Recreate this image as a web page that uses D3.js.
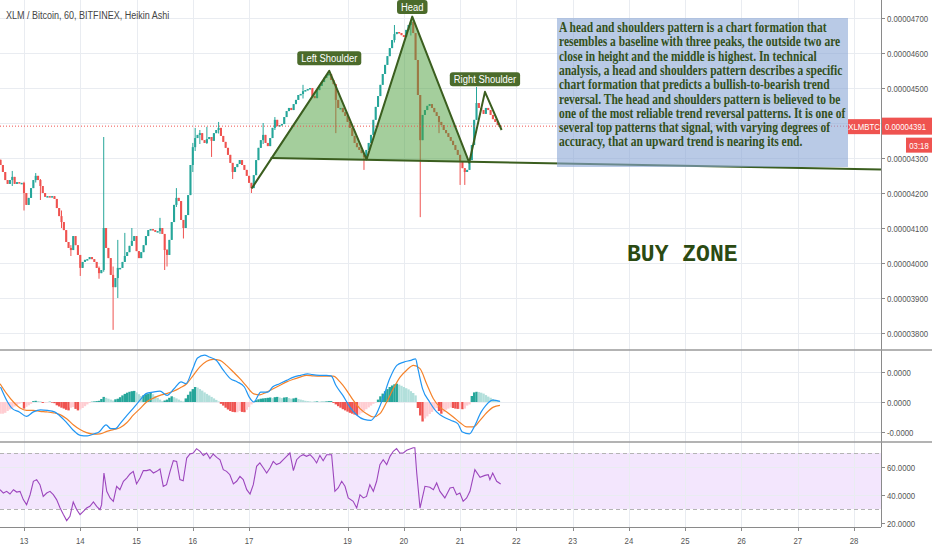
<!DOCTYPE html>
<html>
<head>
<meta charset="utf-8">
<script src="https://d3js.org/d3.v7.min.js"></script>
<style>
  body { margin: 0; background: #fff; }
</style>
</head>
<body>
<div id="chart"></div>
<script>
// Chart data, prices in satoshi (1e-8 BTC), one hourly bar per index
var dayLabels = ["13", "14", "15", "16", "17", "19", "20", "21", "22", "23", "24", "25", "26", "27", "28"];
var dayBars = [0, 24, 48, 72, 96, 138, 162, 186, 210, 234, 258, 282, 306, 330, 354];
var priceTicks = [3800, 3900, 4000, 4100, 4200, 4300, 4400, 4500, 4600, 4700];
var macdTicks = [-10, 0, 10];
var rsiTicks = [20, 40, 60];

var firstBar = -10;
var firstOpen = 4295;
var haClose = [
  4280, 4260, 4237, 4226, 4237, 4246, 4226, 4231, 4229, 4229,
  4200, 4166, 4186, 4214, 4237, 4249, 4237, 4220, 4200, 4189,
  4191, 4189, 4191, 4183, 4157, 4134, 4117, 4094, 4060, 4043,
  4037, 4077, 4051, 4023, 3986, 4003, 4009, 4011, 4017, 4011,
  4003, 3986, 3971, 3980, 4100, 4043, 4014, 3966, 3931, 3957,
  3986, 3986, 4003, 4020, 4031, 4049, 4063, 4077, 4034, 4014,
  4031, 4051, 4077, 4094, 4097, 4094, 4089, 4091, 4100, 4083,
  4037, 4023, 4066, 4117, 4166, 4186, 4177, 4123, 4100, 4137,
  4194, 4280, 4331, 4357, 4366, 4371, 4351, 4343, 4354, 4360,
  4349, 4371, 4380, 4386, 4363, 4346, 4329, 4309, 4286, 4260,
  4274, 4283, 4294, 4280, 4266, 4249, 4229, 4214, 4251, 4294,
  4329, 4351, 4366, 4343, 4334, 4357, 4386, 4409, 4391, 4394,
  4397, 4417, 4434, 4443, 4437, 4454, 4466, 4480, 4483, 4491,
  4494, 4497, 4500, 4477, 4471, 4494, 4506, 4517, 4529, 4537,
  4540, 4523, 4511, 4466, 4443, 4443, 4431, 4420, 4403, 4386,
  4363, 4343, 4331, 4323, 4314, 4303, 4323, 4343, 4366, 4409,
  4446, 4477, 4509, 4540, 4566, 4591, 4614, 4637, 4654, 4660,
  4657, 4651, 4646, 4666, 4680, 4689, 4657, 4580, 4480, 4351,
  4423, 4437, 4449, 4454, 4443, 4431, 4420, 4403, 4394, 4380,
  4371, 4360, 4349, 4337, 4323, 4309, 4291, 4271, 4260, 4266,
  4294, 4337, 4409, 4457, 4443, 4437, 4426, 4443, 4437, 4423,
  4411, 4403, 4394, 4391
];
// [bar, high, low] for the bars with visible wicks
var wicks = [
  [-5, 4263, 4220], [0, 4232, 4150], [5, 4257, 4230], [7, 4240, 4180], [16, 4150, 4100],
  [20, 4051, 4020], [24, 4023, 3963], [32, 3990, 3955], [34, 4360, 3975], [38, 3990, 3809],
  [40, 4066, 3900], [43, 4086, 4003], [46, 4100, 4050], [58, 4129, 4083], [60, 4083, 3980],
  [61, 4040, 3990], [65, 4214, 4160], [68, 4123, 4070], [72, 4343, 4260], [73, 4386, 4320],
  [75, 4380, 4340], [78, 4389, 4340], [80, 4360, 4303], [83, 4403, 4370], [89, 4286, 4240],
  [97, 4229, 4200], [102, 4400, 4340], [107, 4417, 4380], [119, 4509, 4470], [133, 4511, 4371],
  [145, 4314, 4266], [158, 4680, 4630], [165, 4694, 4650], [169, 4480, 4131], [177, 4420, 4371],
  [186, 4309, 4223], [188, 4271, 4223], [193, 4503, 4409]
];
var lastPrice = 4391;

// MACD histogram, one value per bar
var histogram = [
  -3.9, -3.9, -3.6, -3.0, -2.5, -2.0, -1.5, -1.0, -0.6, -0.2,
  -2.2, -1.6, -1.1, -0.6, 0.3, 0.4, 0.3, 0.2, -0.3, -0.2,
  -0.1, 0.1, -0.2, -0.4, -1.1, -1.5, -1.9, -2.2, -2.6, -2.8,
  -1.9, -1.7, -2.3, -2.8, -2.5, -2.0, -1.4, -0.8, -0.3, 0.1,
  0.2, 0.3, 0.4, 1.0, 1.7, 1.4, 1.1, 0.8, 0.5, 0.9,
  1.1, 1.6, 2.2, 2.7, 3.1, 3.4, 3.6, 3.7, 3.2, 2.6,
  2.0, 2.3, 2.6, 2.8, 3.0, 2.6, 2.0, 1.4, 0.8, 0.3,
  0.5, 0.8, 1.4, 1.9, 1.6, 1.2, 0.8, 0.4, 0.2, 1.2,
  2.4, 3.5, 4.3, 5.0, 4.8, 4.3, 3.8, 3.2, 2.7, 2.2,
  1.7, 1.2, 0.7, 0.2, -0.6, -1.2, -1.9, -2.5, -3.0, -3.3,
  -3.4, -3.4, -3.0, -3.3, -3.4, -2.6, -1.7, -0.8, -0.1, 0.6,
  0.9, 1.1, 1.2, 1.3, 1.4, 1.5, 1.3, 1.6, 1.7, 1.5,
  1.3, 1.5, 1.6, 1.3, 1.1, 1.2, 1.4, 1.0, 0.8, 0.6,
  0.4, 0.3, 0.2, 0.1, 0.1, 0.2, 0.1, 0.1, 0.1, 0.2,
  0.3, 0.3, -0.3, -0.8, -1.4, -1.9, -2.4, -2.8, -3.2, -3.6,
  -3.9, -4.2, -4.4, -4.2, -3.6, -3.0, -2.4, -1.8, -1.2, -0.6,
  -0.2, 0.8, 1.9, 2.8, 3.6, 4.3, 5.0, 5.5, 5.9, 6.1,
  5.8, 5.4, 5.0, 4.6, 4.2, 3.6, 3.0, 2.2, -2.0, -4.5,
  -6.5, -5.5, -4.8, -4.0, -3.3, -2.6, -2.0, -3.0, -3.9, -3.3,
  -2.6, -2.2, -1.8, -2.0, -2.2, -2.3, -2.3, -2.4, -2.2, -1.2,
  -0.8, 2.0, 3.2, 3.4, 3.3, 3.1, 2.8, 2.3, 1.8, 1.4,
  1.0, 0.6, 0.3, 0.1
];
// [bar, value] samples
var macdLine = [
  [-10, 5.0], [-7, 0], [-5, -2.2], [-2, -3.3], [1, -4.8], [4, -3.3], [7, -2.6], [10, -2.8], [13, -3.3], [15, -4.4],
  [18, -6.7], [21, -9.4], [24, -11.1], [27, -11.3], [30, -10.6], [32, -10], [35, -7.6], [37, -8.9], [39, -8.9], [41, -7.2],
  [44, -4.4], [47, -1.7], [50, 1.1], [52, 2.8], [55, 3.3], [58, 3.6], [61, 2.2], [64, 4.4], [67, 6.7], [69, 6.1],
  [72, 11.1], [74, 14.7], [77, 15.6], [79, 15], [82, 13.9], [85, 10.6], [88, 7.8], [91, 6.7], [94, 5], [96, 1.7],
  [98, 0], [101, 3.3], [104, 3.3], [106, 5], [109, 6.1], [112, 7.2], [115, 8.3], [118, 8.9], [121, 9.4], [123, 9.1],
  [126, 8.9], [129, 8.9], [131, 8.7], [133, 5.6], [136, 2.2], [139, -1.7], [142, -4.4], [145, -5.8], [148, -6.1], [150, -4.4],
  [153, 1.1], [156, 7.8], [159, 12.2], [162, 13.3], [165, 13.9], [167, 14.4], [168, 11.1], [170, 4.4], [173, 0], [176, -3.3],
  [179, -5], [182, -6.1], [185, -7.2], [187, -10], [190, -10.6], [192, -8.3], [195, -3.3], [197, -1.1], [200, 0.6], [203, 0.2]
];
var signalLine = [
  [-10.2, 6.1], [-7.4, 2.8], [-4.5, 0], [-1.7, -2], [1.1, -2.8], [4, -2.8], [6.8, -3.1], [9.7, -3.3], [12.5, -3.6], [15.4, -4.2],
  [18.2, -5.6], [21, -7.6], [23.9, -9.2], [26.7, -10.2], [29.6, -10.7], [32.4, -10.6], [35.3, -9.8], [38.1, -9.2], [40.9, -8.6], [43.8, -6.9],
  [46.6, -4.4], [49.5, -2.2], [52.3, 0], [55.2, 1.3], [58, 2.2], [60.8, 2.8], [63.7, 3.6], [66.5, 4.7], [69.4, 6.1], [72.2, 8.9],
  [75, 11.7], [77.9, 13.6], [80.7, 14.2], [83.6, 13.9], [86.4, 12.2], [89.3, 10], [92.1, 7.8], [94.9, 5.3], [97.8, 2.8], [100.6, 2.4],
  [103.5, 3.3], [106.3, 4.4], [109.2, 5.6], [112, 6.7], [114.9, 7.6], [117.7, 8.3], [120.5, 8.9], [123.4, 8.7], [126.2, 8.6], [129.1, 8.6],
  [131.9, 8.6], [134.8, 6.7], [137.6, 3.9], [140.4, 0.6], [143.3, -2.2], [146.1, -3.9], [149, -5], [151.8, -3.9], [154.7, 0], [157.5, 4.4],
  [160.4, 8.3], [163.2, 10.6], [166.1, 12.2], [168.9, 11.1], [171.7, 6.1], [174.6, 1.1], [177.4, -1.7], [180.3, -3.3], [183.1, -5], [186, -6.9],
  [188.8, -8.3], [191.6, -8.3], [194.5, -6.1], [197.3, -3.6], [200.2, -1.7], [203, -1.1]
];
var rsiLine = [
  [-10.2, 43.8], [-8.8, 41.4], [-7.4, 42.6], [-6, 40.7], [-4.5, 43.8], [-3.1, 42.1], [-1.7, 42.6], [-0.3, 36.7], [1.1, 33.1], [2.6, 40.2],
  [4, 49.8], [5.4, 51], [6.8, 47.4], [8.2, 39], [9.7, 41.4], [11.1, 42.6], [12.5, 40.2], [13.9, 36.7], [15.4, 30.7], [16.8, 26],
  [18.2, 21.7], [19.6, 24.8], [21, 35], [22.5, 29.5], [23.9, 26], [25.3, 28.3], [26.7, 30.7], [28.1, 31.9], [29.6, 35], [31, 31.9],
  [32.4, 29.5], [33.1, 33.1], [34.1, 55.7], [35.3, 42.6], [36.7, 37.9], [38.1, 35.5], [39.5, 46.2], [40.9, 43.8], [42.4, 49.8], [43.8, 52.1],
  [45.2, 55], [46.6, 56.9], [48, 47.9], [49.5, 52.1], [50.9, 57.4], [52.3, 57.4], [53.7, 58.1], [55.2, 55.7], [56.6, 56.9], [58, 58.6],
  [59.4, 46.2], [60.8, 47.4], [62.3, 56.9], [63.7, 64.5], [65.1, 64], [66.5, 51], [67.9, 50.2], [69.4, 66.4], [70.8, 69.3], [72.2, 70],
  [73.6, 73.1], [75.1, 71.2], [76.5, 68.3], [77.9, 70], [79.3, 66], [80.7, 69.3], [82.2, 66.9], [83.6, 65.2], [85, 58.1], [86.4, 56.9],
  [87.8, 54.5], [89.3, 47.9], [90.7, 49.8], [92.1, 53.3], [93.5, 51], [95, 43.8], [96.4, 40.7], [97.8, 47.4], [99.2, 60.5], [100.6, 62.9],
  [102.1, 59.3], [103.5, 55.7], [104.9, 59.3], [106.3, 64], [107.7, 61.7], [109.2, 62.9], [110.6, 65.2], [112, 67.6], [113.4, 70], [114.9, 57.4],
  [116.3, 65.2], [117.7, 67.6], [119.1, 68.8], [120.5, 67.6], [122, 68.8], [123.4, 66.4], [124.8, 62.9], [126.2, 68.3], [127.6, 64.5], [129.1, 68.8],
  [131.2, 68.8], [132.6, 42.6], [134, 45], [135.5, 49.8], [136.9, 46.2], [138.3, 37.9], [140.4, 35.5], [141.9, 30.7], [143.3, 40.2], [144.7, 37.9],
  [146.1, 39], [147.5, 47.4], [149, 42.6], [150.4, 49.8], [151.8, 61.7], [153.2, 65.2], [154.7, 61.7], [156.1, 67.6], [157.5, 71.2], [158.9, 73.1],
  [160.3, 70], [161.8, 70], [163.2, 71.9], [166, 73.8], [166.7, 73.8], [167.5, 55.7], [168.9, 30.7], [171, 46.2], [173.1, 45.5], [174.6, 43.8],
  [176, 48.6], [177.4, 42.6], [179.5, 37.9], [181.7, 45], [183.1, 45.5], [184.5, 40.2], [185.9, 41.4], [187.3, 35.5], [188.8, 37.9], [190.2, 42.6],
  [192.3, 58.1], [194.5, 52.6], [196.6, 54], [198, 54.5], [198.7, 51], [199.9, 55.7], [201.6, 49.8], [203.3, 47.9]
];

// head and shoulders drawing
var hsBars = [97.1, 130.2, 146.1, 165.6, 189.9, 196.6, 203.7];
var hsPrices = [4213, 4549, 4296, 4704, 4287, 4489, 4380];
var hsLabelIdx = [1, 3, 5];
var hsLabelNames = ["Left Shoulder", "Head", "Right Shoulder"];
var neckBars = [105.2, 365.5];
var neckPrices = [4300, 4267];

var noteLines = [
  "A head and shoulders pattern is a chart formation that",
  "resembles a baseline with three peaks, the outside two are",
  "close in height and the middle is highest. In technical",
  "analysis, a head and shoulders pattern describes a specific",
  "chart formation that predicts a bullish-to-bearish trend",
  "reversal. The head and shoulders pattern is believed to be",
  "one of the most reliable trend reversal patterns. It is one of",
  "several top patterns that signal, with varying degrees of",
  "accuracy, that an upward trend is nearing its end."
];

// Set up the chart
var svgWidth = 932;
var svgHeight = 550;
var axisX = 881;
var mainBottom = 349;
var macdTop = 350, macdBottom = 442;
var rsiBottom = 527;
var squeeze = 0.82;

var x = d3.scaleLinear().domain([0, 354]).range([24, 854]);
var yPrice = d3.scaleLinear().domain([3800, 4700]).range([333, 18]);
var yMacd = d3.scaleLinear().domain([-10, 10]).range([432, 372]);
var yRsi = d3.scaleLinear().domain([20, 60]).range([523, 467]);

var svg = d3.select("#chart")
  .append("svg")
  .attr("width", svgWidth)
  .attr("height", svgHeight)
  .style("font-family", "'Liberation Sans', Arial, sans-serif");

function crisp(v) { return Math.round(v) + 0.5; }

function addText(parent, px, py, str, size, fill, anchor, sx) {
  return parent.append("text")
    .attr("transform", "translate(" + px + "," + py + ") scale(" + (sx || squeeze) + ",1)")
    .attr("text-anchor", anchor || "start")
    .style("font-size", size + "px")
    .attr("fill", fill)
    .text(str);
}

var defs = svg.append("defs");
function addClip(id, y0, y1) {
  defs.append("clipPath").attr("id", id)
    .append("rect").attr("x", 0).attr("y", y0).attr("width", axisX).attr("height", y1 - y0);
}
addClip("clipMain", 0, mainBottom);
addClip("clipMacd", macdTop + 1, macdBottom - 1);
addClip("clipRsi", macdBottom + 1, rsiBottom - 1);

// RSI band under the grid
svg.append("rect")
  .attr("x", 0).attr("width", axisX)
  .attr("y", yRsi(70)).attr("height", yRsi(30) - yRsi(70))
  .attr("fill", "#f3e6fd");

// grid
var grid = svg.append("g").attr("stroke", "#e9ecf1").attr("stroke-width", 1);
grid.selectAll(".vgrid").data(dayBars).enter().append("line")
  .attr("x1", function(d) { return crisp(x(d)); })
  .attr("x2", function(d) { return crisp(x(d)); })
  .attr("y1", 0).attr("y2", rsiBottom);
grid.selectAll(".pgrid").data(priceTicks).enter().append("line")
  .attr("x1", 0).attr("x2", axisX)
  .attr("y1", function(d) { return crisp(yPrice(d)); })
  .attr("y2", function(d) { return crisp(yPrice(d)); });
grid.selectAll(".mgrid").data(macdTicks).enter().append("line")
  .attr("x1", 0).attr("x2", axisX)
  .attr("y1", function(d) { return crisp(yMacd(d)); })
  .attr("y2", function(d) { return crisp(yMacd(d)); });
grid.selectAll(".rgrid").data([40, 60]).enter().append("line")
  .attr("x1", 0).attr("x2", axisX)
  .attr("y1", function(d) { return crisp(yRsi(d)); })
  .attr("y2", function(d) { return crisp(yRsi(d)); });

// candles
var candles = haClose.map(function(c, i) {
  var o = i === 0 ? firstOpen : haClose[i - 1];
  return { bar: firstBar + i, open: o, close: c, high: Math.max(o, c), low: Math.min(o, c) };
});
wicks.forEach(function(w) {
  var cd = candles[w[0] - firstBar];
  cd.high = Math.max(cd.high, w[1]);
  cd.low = Math.min(cd.low, w[2]);
});

var main = svg.append("g").attr("clip-path", "url(#clipMain)");
var candleG = main.append("g");
candleG.selectAll(".wick").data(candles).enter().append("line")
  .attr("x1", function(d) { return x(d.bar); })
  .attr("x2", function(d) { return x(d.bar); })
  .attr("y1", function(d) { return yPrice(d.high); })
  .attr("y2", function(d) { return yPrice(d.low); })
  .attr("stroke", function(d) { return d.close >= d.open ? "#26a69a" : "#ef5350"; })
  .attr("stroke-width", 1);
candleG.selectAll(".body").data(candles).enter().append("rect")
  .attr("x", function(d) { return x(d.bar) - 1.05; })
  .attr("width", 2.1)
  .attr("y", function(d) { return yPrice(Math.max(d.open, d.close)); })
  .attr("height", function(d) { return Math.max(1.5, Math.abs(yPrice(d.open) - yPrice(d.close))); })
  .attr("fill", function(d) { return d.close >= d.open ? "#26a69a" : "#ef5350"; });

// head and shoulders fill
var neckSlope = (neckPrices[1] - neckPrices[0]) / (neckBars[1] - neckBars[0]);
var fillPts = [[neckBars[0], neckPrices[0]]];
for (var k = 1; k <= 4; k++) fillPts.push([hsBars[k], hsPrices[k]]);
fillPts.push([hsBars[4], neckPrices[0] + neckSlope * (hsBars[4] - neckBars[0])]);
main.append("path")
  .attr("d", d3.line().x(function(d) { return x(d[0]); }).y(function(d) { return yPrice(d[1]); })(fillPts) + "Z")
  .attr("fill", "#4a9e3a")
  .attr("fill-opacity", 0.5);

// current price dotted line
main.append("line")
  .attr("x1", 0).attr("x2", axisX)
  .attr("y1", yPrice(lastPrice)).attr("y2", yPrice(lastPrice))
  .attr("stroke", "#ef5350")
  .attr("stroke-width", 1)
  .attr("stroke-dasharray", "1,2");

// note box
svg.append("rect")
  .attr("x", 557).attr("y", 18).attr("width", 291).attr("height", 149)
  .attr("fill", "#8aa6d6").attr("fill-opacity", 0.6);
var note = svg.append("g")
  .style("font-family", "'Liberation Serif', 'Times New Roman', serif")
  .style("font-weight", "bold");
noteLines.forEach(function(line, i) {
  addText(note, 559, 32 + i * 14.3, line, 14, "#33501b");
});

// outline and neckline over the box
var hsPts = hsBars.map(function(b, i) { return [b, hsPrices[i]]; });
var lineGen = d3.line().x(function(d) { return x(d[0]); }).y(function(d) { return yPrice(d[1]); });
main.append("path")
  .attr("d", lineGen(hsPts))
  .attr("fill", "none")
  .attr("stroke", "#3b5e1f")
  .attr("stroke-width", 2)
  .attr("stroke-linejoin", "round");
main.append("path")
  .attr("d", lineGen([[neckBars[0], neckPrices[0]], [neckBars[1], neckPrices[1]]]))
  .attr("fill", "none")
  .attr("stroke", "#3b5e1f")
  .attr("stroke-width", 2);

// pattern labels (kept inside the top edge)
hsLabelIdx.forEach(function(idx, i) {
  var cx = x(hsBars[idx]);
  var top = Math.max(0, yPrice(hsPrices[idx]) - 19.5);
  var g = svg.append("g");
  var box = g.append("rect").attr("fill", "#4b6b2b").attr("rx", 3);
  var t = addText(g, cx, top + 10.5, hsLabelNames[i], 11.5, "#ffffff", "middle");
  var w = t.node().getComputedTextLength() * squeeze + 8;
  box.attr("x", cx - w / 2).attr("y", top).attr("width", w).attr("height", 14);
});

// BUY ZONE
addText(svg, 627, 261, "BUY ZONE", 24, "#2b4a12", "start", 0.96)
  .style("font-family", "'Liberation Mono', 'Courier New', monospace")
  .style("font-weight", "bold");

// MACD histogram and lines
var macdG = svg.append("g").attr("clip-path", "url(#clipMacd)");
macdG.selectAll(".hist").data(histogram).enter().append("rect")
  .attr("x", function(d, i) { return x(firstBar + i) - 1.2; })
  .attr("width", 2.4)
  .attr("y", function(d) { return Math.min(yMacd(0), yMacd(d)); })
  .attr("height", function(d) { return Math.abs(yMacd(d) - yMacd(0)); })
  .attr("fill", function(d, i) {
    var prev = i === 0 ? d : histogram[i - 1];
    if (d >= 0) return d >= prev ? "#26a69a" : "#b2dfdb";
    return d < prev ? "#ef5350" : "#ffcdd2";
  });
var macdGen = d3.line().curve(d3.curveMonotoneX)
  .x(function(d) { return x(d[0]); }).y(function(d) { return yMacd(d[1]); });
macdG.append("path").attr("d", macdGen(signalLine))
  .attr("fill", "none").attr("stroke", "#f5822a").attr("stroke-width", 1.2);
macdG.append("path").attr("d", macdGen(macdLine))
  .attr("fill", "none").attr("stroke", "#2196f3").attr("stroke-width", 1.2);

// RSI
var rsiG = svg.append("g").attr("clip-path", "url(#clipRsi)");
rsiG.selectAll(".band").data([70, 30]).enter().append("line")
  .attr("x1", 0).attr("x2", axisX)
  .attr("y1", function(d) { return crisp(yRsi(d)); })
  .attr("y2", function(d) { return crisp(yRsi(d)); })
  .attr("stroke", "#b4b4b4")
  .attr("stroke-dasharray", "4,3");
rsiG.append("path")
  .attr("d", d3.line().x(function(d) { return x(d[0]); }).y(function(d) { return yRsi(d[1]); })(rsiLine))
  .attr("fill", "none").attr("stroke", "#9c46bd").attr("stroke-width", 1.1);

// frame: axis line and panel separators
svg.append("line").attr("x1", axisX + 0.5).attr("x2", axisX + 0.5).attr("y1", 0).attr("y2", rsiBottom)
  .attr("stroke", "#8a8a8a");
svg.selectAll(".sep").data([macdTop, macdBottom]).enter().append("line")
  .attr("x1", 0).attr("x2", svgWidth)
  .attr("y1", function(d) { return d; }).attr("y2", function(d) { return d; })
  .attr("stroke", "#9a9a9a").attr("stroke-width", 1.6);
svg.append("line").attr("x1", 0).attr("x2", axisX).attr("y1", rsiBottom + 0.5).attr("y2", rsiBottom + 0.5)
  .attr("stroke", "#8a8a8a");

// right axis ticks and labels (a label hidden under the last price tag is skipped)
var axisText = svg.append("g");
var py = yPrice(lastPrice);
function rightTicks(ticks, scale, fmt) {
  ticks.forEach(function(t) {
    var yy = scale(t);
    axisText.append("line").attr("x1", axisX).attr("x2", axisX + 4)
      .attr("y1", crisp(yy)).attr("y2", crisp(yy)).attr("stroke", "#8a8a8a");
    if (scale === yPrice && Math.abs(yy - py) < 12) return;
    addText(axisText, 887, yy + 3.5, fmt(t), 9.5, "#555555");
  });
}
rightTicks(priceTicks, yPrice, function(p) { return (p * 1e-8).toFixed(8); });
rightTicks(macdTicks, yMacd, function(v) { return (v * 1e-8).toFixed(4); });
rightTicks(rsiTicks, yRsi, function(v) { return v.toFixed(4); });

// day axis
dayBars.forEach(function(b, i) {
  axisText.append("line").attr("x1", crisp(x(b))).attr("x2", crisp(x(b)))
    .attr("y1", rsiBottom).attr("y2", rsiBottom + 4).attr("stroke", "#8a8a8a");
  addText(axisText, x(b), 544, dayLabels[i], 9.5, "#555555", "middle");
});

// price labels
svg.append("rect").attr("x", 882).attr("y", py - 8.5).attr("width", 50).attr("height", 17).attr("fill", "#ef5350");
addText(svg, 885, py + 3.5, (lastPrice * 1e-8).toFixed(8), 9.5, "#ffffff");
svg.append("rect").attr("x", 848).attr("y", py - 7).attr("width", 32).attr("height", 15).attr("fill", "#ef5350");
addText(svg, 864, py + 3.5, "XLMBTC", 9.5, "#ffffff", "middle");
svg.append("rect").attr("x", 906).attr("y", py + 11.5).attr("width", 26).attr("height", 15).attr("fill", "#ef5350");
addText(svg, 919, py + 22.5, "03:18", 9.5, "#ffffff", "middle");

// title
addText(svg, 6, 19, "XLM / Bitcoin, 60, BITFINEX, Heikin Ashi", 11, "#454545");
</script>
</body>
</html>
